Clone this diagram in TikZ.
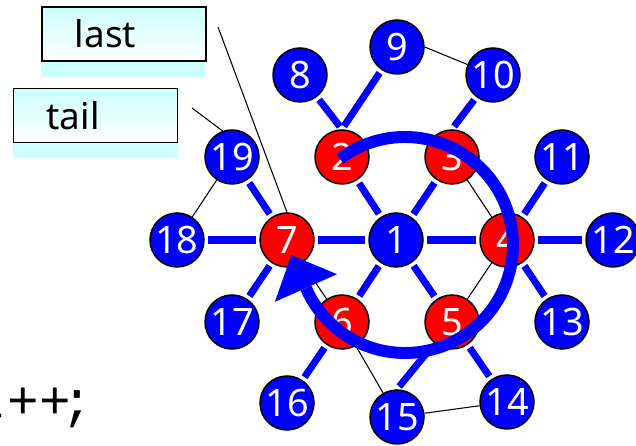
\documentclass[tikz,border=0pt]{standalone}
\usepackage{fontspec}
\usepackage{tikz}
\usetikzlibrary{arrows.meta}
\newfontfamily\numfont{Noto Sans}
\newfontfamily\codefont{Liberation Mono}
\definecolor{boxcyan}{RGB}{204,255,255}

\begin{document}
\begin{tikzpicture}[
        blue_node_style/.style={circle,draw=black,line width=0.85pt,fill=blue,text=white,minimum size=1.08cm,inner sep=0pt,font=\numfont\fontsize{21.5}{25}\selectfont},
        red_node_style/.style={blue_node_style,fill=red},
        tree_edge_style/.style={draw=blue,line width=4pt,shorten <=2pt,shorten >=2pt},
        list_edge_style/.style={draw=black,line width=0.6pt},
        label_box_style/.style={rectangle,draw=black,line width=1.1pt,top color=boxcyan,bottom color=white,minimum height=1.08cm,text width=1.96cm,inner xsep=0.66cm,align=left,font=\numfont\fontsize{21}{25}\selectfont},
        shadow_style/.style={fill=boxcyan}]

        \useasboundingbox (0,0) rectangle (12.72,8.92);

        % tree nodes
        \node [blue_node_style](n1) at (7.92,4.12) {1};
        \node [red_node_style](n2) at (6.84,5.78) {2};
        \node [red_node_style](n3) at (9.04,5.78) {3};
        \node [red_node_style](n4) at (10.14,4.12) {4};
        \node [red_node_style](n5) at (9.04,2.48) {5};
        \node [red_node_style](n6) at (6.84,2.48) {6};
        \node [red_node_style](n7) at (5.74,4.12) {7};
        \node [blue_node_style](n8) at (6.00,7.42) {8};
        \node [blue_node_style](n9) at (7.94,7.98) {9};
        \node [blue_node_style](n10) at (9.86,7.42) {10};
        \node [blue_node_style](n11) at (11.24,5.78) {11};
        \node [blue_node_style](n12) at (12.26,4.12) {12};
        \node [blue_node_style](n13) at (11.24,2.48) {13};
        \node [blue_node_style](n14) at (10.14,0.88) {14};
        \node [blue_node_style](n15) at (7.94,0.58) {15};
        \node [blue_node_style](n16) at (5.74,0.86) {16};
        \node [blue_node_style](n17) at (4.64,2.48) {17};
        \node [blue_node_style](n18) at (3.54,4.12) {18};
        \node [blue_node_style](n19) at (4.64,5.78) {19};

        % tree edges
        \draw [tree_edge_style] (n1) edge (n2);
        \draw [tree_edge_style] (n1) edge (n3);
        \draw [tree_edge_style] (n1) edge (n4);
        \draw [tree_edge_style] (n1) edge (n5);
        \draw [tree_edge_style] (n1) edge (n6);
        \draw [tree_edge_style] (n1) edge (n7);
        \draw [tree_edge_style] (n8) edge (n2.north);
        \draw [tree_edge_style] (n9) edge (n2.north);
        \draw [tree_edge_style] (n10) edge (n3.north);
        \draw [tree_edge_style] (n4) edge (n11);
        \draw [tree_edge_style] (n4) edge (n12);
        \draw [tree_edge_style] (n4) edge (n13);
        \draw [tree_edge_style] (n5) edge (n14);
        \draw [tree_edge_style] (n5) edge (n15.north);
        \draw [tree_edge_style] (n6) edge (n16);
        \draw [tree_edge_style] (n7) edge (n17);
        \draw [tree_edge_style] (n7) edge (n18);
        \draw [tree_edge_style] (n7) edge (n19);

        % list links
        \draw [list_edge_style] (n9.east) edge (n10);
        \draw [list_edge_style] (n3) edge (n4);
        \draw [list_edge_style] (n4) edge (n5);
        \draw [list_edge_style] (n6) edge (n15);
        \draw [list_edge_style] (n15) edge (n14);
        \draw [list_edge_style] (n19) edge (n18);
        \draw [list_edge_style] (n7) edge (n6);

        % pointer boxes
        \node [label_box_style](last_box) at (2.48,8.24) {last};
        \node [label_box_style](tail_box) at (1.91,6.61) {tail};
        \fill [shadow_style] (last_box.south west) rectangle ++(3.28,-0.30);
        \fill [shadow_style] (tail_box.south west) rectangle ++(3.30,-0.30);
        \coordinate (last_end) at (4.36,8.38);
        \coordinate (tail_end) at (3.84,6.76);
        \draw [list_edge_style] (last_end) -- (n7.north);
        \draw [list_edge_style] (tail_end) -- (n19.110);

        % traversal arrow
        \coordinate (loop_center) at (8.10,4.02);
        \draw [blue, line width=6.8pt, -{Triangle[length=7.2mm,width=13.6mm,line width=0pt]}]
            (loop_center) ++(127:2.16) arc [start angle=127, end angle=-156, radius=2.16] -- ++(114:0.74);

        \node [font=\codefont\fontsize{30}{34}\selectfont,anchor=base west,inner sep=0pt](code_line) at (-0.49,0.54) {t++\kern-0.18cm;};
        \end{tikzpicture}
\end{document}
